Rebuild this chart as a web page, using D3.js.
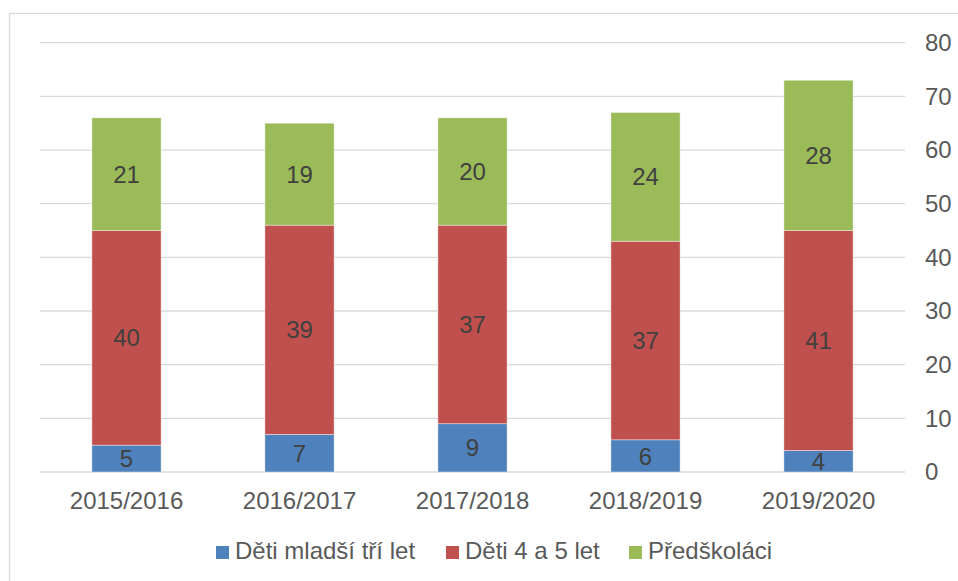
<!DOCTYPE html>
<html>
<head>
<meta charset="utf-8">
<script src="https://cdn.jsdelivr.net/npm/d3@7"></script>
<style>
  html, body { margin: 0; padding: 0; background: #fff; }
  svg text { font-family: "Liberation Sans", Arial, sans-serif; }
</style>
</head>
<body>
<div id="chart"></div>
<script>
// data
const years = ["2015/2016", "2016/2017", "2017/2018", "2018/2019", "2019/2020"];
const seriesNames = ["Děti mladší tří let", "Děti 4 a 5 let", "Předškoláci"];
const mladsi = [5, 7, 9, 6, 4];
const ctyrPet = [40, 39, 37, 37, 41];
const predskolaci = [21, 19, 20, 24, 28];
const yTicks = [0, 10, 20, 30, 40, 50, 60, 70, 80];

const
    width = 958,
    height = 581,
    margin = { top: 42.7, right: 53, bottom: 109, left: 40 },
    colors = ["#4F81BD", "#C0504D", "#9BBB59"],
    fontSize = 24;

const svg = d3.select("#chart").append("svg")
    .attr("width", width)
    .attr("height", height);

// chart area frame
svg.append("rect")
    .attr("x", 9.5)
    .attr("y", 13.5)
    .attr("width", width + 20)
    .attr("height", height + 20)
    .attr("fill", "none")
    .attr("stroke", "#d9d9d9")
    .attr("stroke-width", 1.3);

const table = years.map((y, i) => ({
    year: y,
    s0: mladsi[i],
    s1: ctyrPet[i],
    s2: predskolaci[i]
}));

const stack = d3.stack().keys(["s0", "s1", "s2"]);
const stacked = stack(table);

const x = d3.scaleBand()
    .domain(years)
    .range([margin.left, width - margin.right])
    .padding(0);

const barWidth = x.bandwidth() * 0.4;

const y = d3.scaleLinear()
    .domain([0, 80])
    .range([height - margin.bottom, margin.top]);

// gridlines + right axis labels
const yAxis = g => g
    .attr("transform", `translate(${width - margin.right},0)`)
    .call(d3.axisRight(y).tickValues(yTicks).tickSize(0).tickPadding(20))
    .call(g => g.select(".domain").remove())
    .call(g => g.selectAll(".tick text")
        .attr("fill", "#595959")
        .style("font-size", fontSize + "px")
        .style("font-family", "Liberation Sans, Arial, sans-serif"));

svg.append("g")
    .selectAll("line")
    .data(yTicks)
    .join("line")
    .attr("x1", margin.left)
    .attr("x2", width - margin.right)
    .attr("y1", d => y(d))
    .attr("y2", d => y(d))
    .attr("stroke", "#d9d9d9")
    .attr("stroke-width", 1.3);

svg.append("g").call(yAxis);

// bars
const layers = svg.append("g")
    .selectAll("g")
    .data(stacked)
    .join("g")
    .attr("fill", (d, i) => colors[i]);

layers.selectAll("rect")
    .data(d => d)
    .join("rect")
    .attr("x", d => x(d.data.year) + (x.bandwidth() - barWidth) / 2)
    .attr("y", d => y(d[1]))
    .attr("width", barWidth)
    .attr("height", d => y(d[0]) - y(d[1]))
    .attr("stroke", "#ffffff")
    .attr("stroke-opacity", 0.5)
    .attr("stroke-width", 0.8);

// data labels
layers.selectAll("text")
    .data(d => d)
    .join("text")
    .attr("x", d => x(d.data.year) + x.bandwidth() / 2)
    .attr("y", d => (y(d[0]) + y(d[1])) / 2)
    .attr("dy", "0.36em")
    .attr("text-anchor", "middle")
    .attr("fill", "#404040")
    .style("font-size", fontSize + "px")
    .text(d => d[1] - d[0]);

// x axis labels
const xAxis = g => g
    .attr("transform", `translate(0,${height - margin.bottom})`)
    .call(d3.axisBottom(x).tickSize(0).tickPadding(20))
    .call(g => g.select(".domain").remove())
    .call(g => g.selectAll(".tick text")
        .attr("fill", "#595959")
        .style("font-size", fontSize + "px")
        .style("font-family", "Liberation Sans, Arial, sans-serif"));

svg.append("g").call(xAxis);

// legend
const legendX = [216, 446, 629];
const legend = svg.append("g")
    .selectAll("g")
    .data(seriesNames)
    .join("g")
    .attr("transform", (d, i) => `translate(${legendX[i]},546)`);

legend.append("rect")
    .attr("width", 13)
    .attr("height", 13)
    .attr("fill", (d, i) => colors[i]);

legend.append("text")
    .attr("x", 19)
    .attr("y", 13)
    .attr("fill", "#595959")
    .style("font-size", fontSize + "px")
    .text(d => d);
</script>
</body>
</html>
